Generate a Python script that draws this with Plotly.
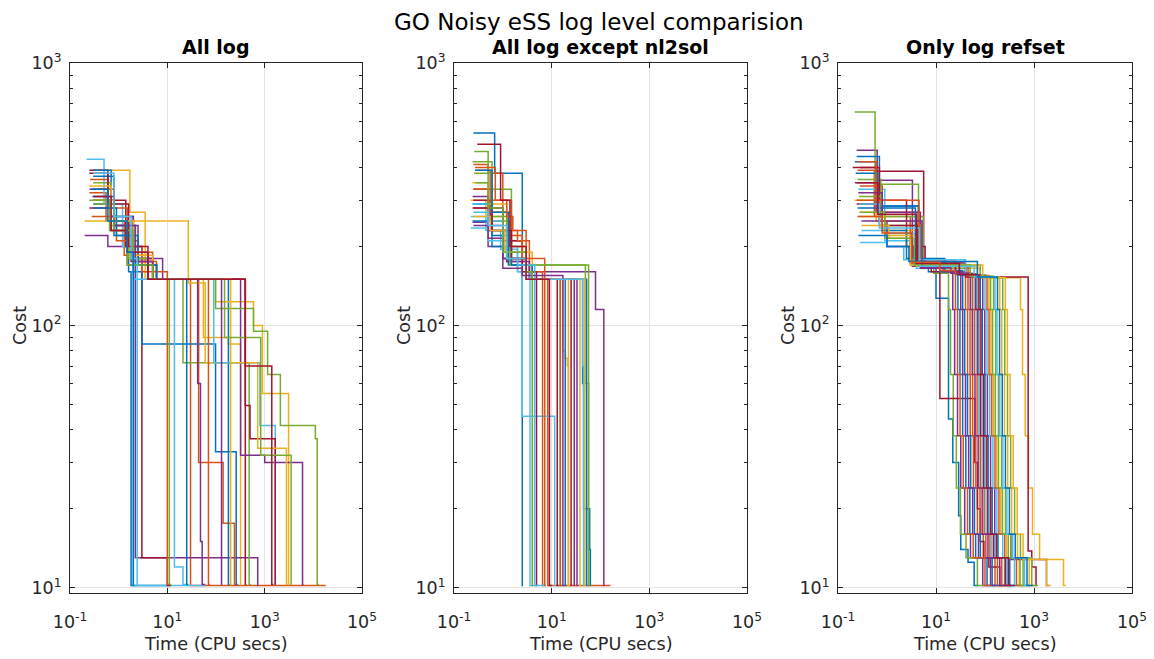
import plotly.graph_objects as go

colors = ["#0072BD", "#D95319", "#EDB120", "#7E2F8E", "#77AC30", "#4DBEEE", "#A2142F"]

x_tick_vals = [0.1, 10, 1000, 100000]
x_tick_text = ["10<sup>-1</sup>", "10<sup>1</sup>", "10<sup>3</sup>", "10<sup>5</sup>"]
y_tick_vals = [10, 100, 1000]
y_tick_text = ["10<sup>1</sup>", "10<sup>2</sup>", "10<sup>3</sup>"]
y_minor_vals = [20, 30, 40, 50, 60, 70, 80, 90, 200, 300, 400, 500, 600, 700, 800, 900]

titles = ["All log", "All log except nl2sol", "Only log refset"]
main_title = "GO Noisy eSS log level comparision"

# ---------------- All log ----------------
all_log_time = [
    [0.3, 0.8, 1.6, 1.8, 11],
    [0.25, 0.55, 1.3, 4.0, 30, 18000],
    [0.3, 1.7, 3.5, 55, 180, 320, 330],
    [0.2, 0.6, 1.5, 2.2, 720, 740],
    [0.25, 0.65, 1.5, 6, 21, 480, 520],
    [0.22, 0.5, 1.2, 2.0, 60],
    [0.25, 0.6, 1.4, 3.0, 10, 12],
    [0.3, 0.7, 2.0, 3.0, 98, 260, 280],
    [0.28, 0.9, 2.5, 6, 44, 140, 240, 260],
    [0.2, 27, 60, 200, 210],
    [0.3, 0.8, 2.5, 8, 42, 48, 52, 60],
    [0.3, 0.7, 2.0, 4, 11, 12],
    [0.28, 0.7, 2.0, 14, 21, 25],
    [0.25, 0.7, 1.8, 5, 400, 420],
    [0.3, 0.8, 2.2, 6, 180, 190],
    [0.26, 0.6, 1.5, 3, 10, 11],
    [0.3, 0.8, 1.7, 5, 98, 590, 900, 3100, 3200],
    [0.25, 0.7, 2.0, 5, 320, 1000, 6000, 6300],
    [0.3, 0.7, 1.6, 4, 98, 590, 1150, 2100, 11000, 12000, 13000],
    [0.28, 0.7, 1.8, 4, 90, 800, 1650, 1700],
    [0.25, 0.6, 1.6, 4, 400, 500, 1650, 1700],
    [0.3, 0.9, 2.5, 6, 25, 27],
    [0.3, 0.8, 2, 5, 70, 75],
    [0.25, 0.7, 2, 5, 200, 720, 2800, 3000],
    [0.3, 0.8, 2.2, 5, 130, 135],
    [0.3, 0.8, 2, 5, 150, 830, 3500, 3600],
    [0.3, 0.8, 1.8, 2.4, 2.6],
    [0.3, 0.7, 1.5, 4, 400, 1400, 1500],
    [0.28, 0.6, 1.5, 2.0, 2.1],
]
all_log_cost = [
    [290, 220, 160, 10.2, 10.2],
    [320, 250, 185, 150, 10.2, 10.2],
    [390, 270, 150, 90, 85, 10.3, 10.3],
    [220, 200, 170, 13, 10.2, 10.2],
    [300, 230, 170, 150, 72, 10.3, 10.3],
    [430, 290, 200, 10.2, 10.2],
    [390, 300, 200, 13, 10.2, 10.2],
    [390, 250, 160, 85, 33, 10.3, 10.3],
    [260, 210, 175, 150, 30, 17.6, 10.3, 10.3],
    [250, 145, 72, 10.3, 10.3],
    [300, 240, 180, 150, 60, 15, 10.3, 10.3],
    [350, 260, 170, 150, 10.3, 10.3],
    [330, 260, 150, 12, 10.3, 10.3],
    [280, 230, 175, 150, 10.3, 10.3],
    [370, 240, 170, 150, 10.3, 10.3],
    [360, 280, 200, 160, 10.3, 10.3],
    [300, 250, 180, 150, 123, 100, 55, 10.3, 10.3],
    [330, 260, 180, 150, 32, 30, 10.3, 10.3],
    [300, 240, 180, 150, 116, 95, 65, 41.5, 37, 10.3, 10.3],
    [310, 250, 190, 150, 72, 41.5, 10.3, 10.3],
    [380, 290, 200, 150, 49.5, 37, 10.3, 10.3],
    [280, 220, 170, 150, 10.3, 10.3],
    [330, 250, 190, 150, 10.3, 10.3],
    [340, 250, 185, 150, 72, 34, 10.3, 10.3],
    [310, 240, 175, 150, 10.3, 10.3],
    [290, 230, 170, 150, 90, 32, 10.3, 10.3],
    [380, 260, 180, 10.2, 10.2],
    [310, 230, 190, 150, 70, 10.3, 10.3],
    [330, 250, 190, 10.2, 10.2],
]

# ---------------- All log except nl2sol ----------------
no_nl2sol_time = [
    [0.25, 0.68, 2.5, 2.6],
    [0.25, 0.5, 1.0, 3.0, 8.3, 160],
    [0.22, 0.45, 1.0, 3, 17, 19, 21, 22, 23],
    [0.24, 0.5, 1.2, 3, 79, 117, 120],
    [0.26, 0.5, 1.5, 49, 57, 58],
    [0.22, 0.45, 0.9, 2.0, 2.5, 11.5, 12],
    [0.25, 0.55, 1.0, 3, 13, 14],
    [0.24, 0.6, 1.3, 3.5, 43, 45, 60, 62, 63],
    [0.28, 0.55, 1.2, 3.5, 6.5, 7],
    [0.25, 0.6, 1.5, 4, 38, 40],
    [0.25, 0.5, 1.2, 3.5, 29, 30],
    [0.26, 0.6, 1.4, 4, 15, 16],
    [0.22, 0.5, 1.0, 2.0, 3.6, 7.6],
    [0.25, 0.5, 1.0, 2.5, 4.9, 5.0],
    [0.24, 0.6, 1.5, 4, 52, 54],
    [0.26, 0.6, 1.5, 2.5, 7.2, 7.5],
    [0.24, 0.5, 1.2, 3, 22, 24],
    [0.24, 0.5, 1.0, 3, 33, 35],
    [0.24, 0.6, 1.2, 3, 57, 60],
    [0.24, 0.5, 1.0, 2.0, 4.5, 5],
    [0.24, 0.6, 1.5, 3, 25, 26],
    [0.27, 0.6, 1.3, 3, 19, 20],
    [0.27, 0.7, 1.2, 1.6, 2.0, 2.5, 3, 15, 16],
    [0.25, 0.55, 1.1, 3, 48, 50],
    [0.25, 0.5, 1.0, 2.5, 17, 18],
    [0.28, 0.5, 1.0, 3.0, 4.0, 4.2],
    [0.25, 0.5, 1.2, 3, 43, 45, 46],
    [0.3, 0.9, 1.4, 3, 9, 10],
]
no_nl2sol_cost = [
    [541, 380, 10.2, 10.2],
    [410, 380, 230, 150, 10.2, 10.2],
    [300, 260, 200, 150, 80, 75, 70, 10.2, 10.2],
    [247, 200, 175, 160, 115, 10.2, 10.2],
    [460, 330, 170, 60, 10.2, 10.2],
    [260, 230, 195, 160, 45, 10.2, 10.2],
    [300, 250, 180, 150, 10.2, 10.2],
    [250, 200, 170, 150, 60, 20, 14, 10.2, 10.2],
    [390, 270, 210, 160, 10.2, 10.2],
    [330, 270, 190, 150, 10.2, 10.2],
    [280, 230, 175, 150, 10.2, 10.2],
    [380, 250, 170, 150, 10.2, 10.2],
    [235, 210, 180, 160, 10.2, 10.2],
    [330, 280, 210, 160, 10.2, 10.2],
    [290, 220, 170, 150, 10.2, 10.2],
    [330, 300, 220, 180, 10.2, 10.2],
    [350, 290, 200, 150, 10.2, 10.2],
    [310, 240, 180, 150, 10.2, 10.2],
    [420, 260, 180, 170, 10.2, 10.2],
    [290, 250, 200, 170, 10.2, 10.2],
    [280, 230, 180, 150, 10.2, 10.2],
    [390, 270, 190, 150, 10.2, 10.2],
    [400, 300, 260, 230, 210, 190, 150, 10.2, 10.2],
    [260, 230, 190, 150, 10.2, 10.2],
    [240, 215, 165, 155, 10.2, 10.2],
    [350, 280, 190, 160, 10.2, 10.2],
    [270, 240, 180, 150, 70, 10.2, 10.2],
    [490, 300, 200, 150, 10.2, 10.2],
]

# ---------------- Only log refset ----------------
refset_time = [
    [0.22, 0.6, 4.4, 7, 10, 18, 22, 29, 32, 45, 60, 75],
    [0.25, 0.55, 3.0, 15, 40, 44, 50, 58, 70, 92, 160, 220],
    [0.22, 0.6, 4.0, 40, 120, 132, 150, 174, 210, 276, 500, 650],
    [0.24, 0.63, 3.3, 10, 22, 24, 27.5, 32, 38.5, 50.6, 90, 120],
    [0.22, 0.57, 4.4, 9, 18, 19.8, 22.5, 26, 31.5, 41, 70, 95],
    [0.26, 0.9, 4.0, 25, 60, 66, 75, 87, 105, 138, 250, 330],
    [0.2, 0.6, 5.6, 8, 12, 62, 70, 80, 95, 120, 200, 260],
    [0.24, 0.7, 4.4, 12, 28, 30.8, 35, 40.6, 49, 64.4, 110, 150],
    [0.28, 0.8, 4.4, 20, 45, 49.5, 56, 65, 79, 104, 180, 240],
    [0.27, 0.9, 5.0, 80, 530, 583, 660, 770, 930, 1300, 4000, 4500],
    [0.3, 1.0, 3.5, 40, 90, 99, 112, 130, 158, 340, 1800, 2000],
    [0.25, 0.75, 5.5, 50, 150, 165, 188, 218, 262, 345, 600, 800],
    [0.3, 0.9, 3.0, 30, 70, 77, 87.5, 101, 122, 161, 280, 380],
    [0.28, 0.7, 2.5, 6, 40, 760, 900, 1100, 1150],
    [0.25, 0.8, 2.5, 15, 35, 38.5, 44, 51, 61, 80.5, 140, 190],
    [0.24, 0.7, 3.0, 25, 55, 60.5, 69, 80, 96, 126, 220, 300],
    [0.26, 0.9, 4.0, 70, 200, 220, 250, 290, 350, 460, 800, 1000],
    [0.22, 0.6, 4.8, 14, 32, 35, 40, 46.4, 56, 73.6, 130, 170],
    [0.27, 0.8, 5.0, 80, 230, 253, 288, 334, 402, 529, 900, 1200],
    [0.28, 1.0, 2.2, 40, 100, 110, 125, 145, 175, 230, 400, 520],
    [0.24, 0.7, 4.2, 25, 65, 71.5, 81, 94, 114, 150, 260, 340],
    [0.23, 0.65, 3.8, 30, 80, 88, 100, 116, 140, 184, 320, 420],
    [0.25, 0.6, 4.5, 45, 110, 121, 137.5, 160, 192.5, 253, 440, 580],
    [0.3, 1.1, 3.0, 90, 260, 286, 325, 377, 455, 598, 1800, 2200],
    [0.26, 0.8, 5.2, 20, 50, 55, 62.5, 72.5, 87.5, 115, 200, 260],
    [0.28, 0.9, 3.6, 50, 130, 143, 162.5, 188.5, 227.5, 299, 520, 680],
    [0.27, 0.7, 4.6, 60, 160, 176, 200, 232, 280, 368, 640, 840],
    [0.24, 0.65, 4.0, 30, 75, 82.5, 94, 109, 131, 172.5, 300, 400],
    [0.26, 1.0, 2.8, 70, 180, 198, 225, 261, 315, 414, 720, 950],
    [0.25, 0.8, 3.2, 12, 25, 27.5, 31, 36, 44, 57.5, 100, 130],
]
refset_cost = [
    [420, 285, 170, 160, 127, 44, 30, 18.8, 14, 12.5, 10.2, 10.2],
    [390, 260, 175, 160, 115, 65, 38, 24, 16, 13, 10.2, 10.2],
    [300, 250, 170, 155, 115, 65, 38, 24, 16, 13, 10.2, 10.2],
    [465, 357, 168, 160, 115, 65, 38, 24, 16, 13, 10.2, 10.2],
    [650, 345, 172, 158, 115, 65, 38, 24, 16, 13, 10.2, 10.2],
    [330, 224, 165, 156, 115, 65, 38, 24, 16, 13, 10.2, 10.2],
    [400, 387, 173, 160, 52.6, 30, 20, 15, 13, 12, 10.2, 10.2],
    [440, 285, 168, 160, 115, 65, 38, 24, 16, 13, 10.2, 10.2],
    [340, 270, 170, 158, 115, 65, 38, 24, 16, 13, 10.2, 10.2],
    [270, 230, 165, 152, 115, 65, 38, 24, 16, 12.8, 10.2, 10.2],
    [250, 200, 168, 156, 115, 65, 38, 24, 16, 12.8, 10.2, 10.2],
    [360, 260, 165, 154, 115, 65, 38, 24, 16, 13, 10.2, 10.2],
    [230, 210, 170, 157, 115, 65, 38, 24, 16, 13, 10.2, 10.2],
    [400, 300, 200, 173, 153, 13.8, 12, 10.2, 10.2],
    [280, 230, 180, 162, 115, 65, 38, 24, 16, 13, 10.2, 10.2],
    [300, 250, 172, 158, 115, 65, 38, 24, 16, 13, 10.2, 10.2],
    [260, 220, 168, 153, 115, 65, 38, 24, 16, 13, 10.2, 10.2],
    [350, 270, 165, 160, 115, 65, 38, 24, 16, 13, 10.2, 10.2],
    [310, 240, 170, 152, 115, 65, 38, 24, 16, 13, 10.2, 10.2],
    [207, 200, 178, 156, 115, 65, 38, 24, 16, 13, 10.2, 10.2],
    [290, 240, 175, 157, 115, 65, 38, 24, 16, 13, 10.2, 10.2],
    [380, 280, 172, 156, 115, 65, 38, 24, 16, 13, 10.2, 10.2],
    [420, 300, 168, 155, 115, 65, 38, 24, 16, 13, 10.2, 10.2],
    [240, 215, 170, 152, 115, 65, 38, 24, 16, 12.8, 10.2, 10.2],
    [320, 250, 166, 158, 115, 65, 38, 24, 16, 13, 10.2, 10.2],
    [270, 215, 170, 154, 115, 65, 38, 24, 16, 13, 10.2, 10.2],
    [290, 235, 168, 153, 115, 65, 38, 24, 16, 13, 10.2, 10.2],
    [350, 265, 172, 156, 115, 65, 38, 24, 16, 13, 10.2, 10.2],
    [220, 200, 175, 153, 115, 65, 38, 24, 16, 13, 10.2, 10.2],
    [260, 225, 174, 162, 115, 65, 38, 24, 16, 13, 10.2, 10.2],
]

W, H = 1154, 659
FONT = "DejaVu Sans"
TXT = "#262626"

# axes pixel boxes (left, right) and (top, bottom)
x_px = [(70, 362), (454, 747), (838, 1132)]
y_px = (63, 593)

fig = go.Figure()
panels = [(all_log_time, all_log_cost), (no_nl2sol_time, no_nl2sol_cost), (refset_time, refset_cost)]
for p, (times, costs) in enumerate(panels):
    suffix = "" if p == 0 else str(p + 1)
    for i, (t, c) in enumerate(zip(times, costs)):
        fig.add_trace(go.Scatter(
            x=t, y=c, mode="lines", line=dict(shape="hv", width=1.5, color=colors[i % 7]),
            xaxis="x" + suffix, yaxis="y" + suffix, showlegend=False, hoverinfo="skip"))

ydom = [(H - y_px[1]) / H, (H - y_px[0]) / H]
layout = dict(
    width=W, height=H, template="none",
    paper_bgcolor="white", plot_bgcolor="white",
    margin=dict(l=0, r=0, t=0, b=0),
    showlegend=False,
)
annotations = []
for p in range(3):
    suffix = "" if p == 0 else str(p + 1)
    xd = [x_px[p][0] / W, x_px[p][1] / W]
    layout["xaxis" + suffix] = dict(
        type="log", range=[-1, 5], domain=xd, anchor="y" + suffix,
        tickmode="array", tickvals=x_tick_vals, ticktext=x_tick_text,
        ticks="inside", ticklen=5, tickwidth=1, tickcolor=TXT,
        showline=True, linecolor=TXT, linewidth=1, mirror="ticks",
        showgrid=True, gridcolor="#e4e4e4", gridwidth=1, zeroline=False,
        tickfont=dict(family=FONT, size=17.5, color=TXT), automargin=False,
        ticklabelstandoff=13,
    )
    layout["yaxis" + suffix] = dict(
        type="log", range=[0.98, 3], domain=ydom, anchor="x" + suffix,
        tickmode="array", tickvals=y_tick_vals, ticktext=y_tick_text,
        ticks="inside", ticklen=5, tickwidth=1, tickcolor=TXT,
        minor=dict(tickmode="array", tickvals=y_minor_vals, ticks="inside", ticklen=3,
                   tickcolor=TXT, showgrid=False),
        showline=True, linecolor=TXT, linewidth=1, mirror="ticks",
        showgrid=True, gridcolor="#e4e4e4", gridwidth=1, zeroline=False,
        tickfont=dict(family=FONT, size=17.5, color=TXT), automargin=False,
        ticklabelstandoff=4,
    )
    cx = (x_px[p][0] + x_px[p][1]) / 2 / W
    annotations.append(dict(text="<b>" + titles[p] + "</b>", x=cx, y=(H - 47) / H, xref="paper", yref="paper",
                            showarrow=False, xanchor="center", yanchor="middle",
                            font=dict(family=FONT, size=19, color="black")))
    annotations.append(dict(text="Time (CPU secs)", x=cx, y=(H - 644) / H, xref="paper", yref="paper",
                            showarrow=False, xanchor="center", yanchor="middle",
                            font=dict(family=FONT, size=17.6, color=TXT)))
    annotations.append(dict(text="Cost", x=(x_px[p][0] - 50) / W, y=(H - 326) / H, xref="paper", yref="paper",
                            showarrow=False, xanchor="center", yanchor="middle", textangle=-90,
                            font=dict(family=FONT, size=17.6, color=TXT)))
annotations.append(dict(text=main_title, x=599 / W, y=(H - 22) / H, xref="paper", yref="paper",
                        showarrow=False, xanchor="center", yanchor="middle",
                        font=dict(family=FONT, size=23, color="black")))
layout["annotations"] = annotations
fig.update_layout(**layout)
fig.write_html("out.html", config={"displayModeBar": False},
               post_script="document.body.style.margin='0px';")
